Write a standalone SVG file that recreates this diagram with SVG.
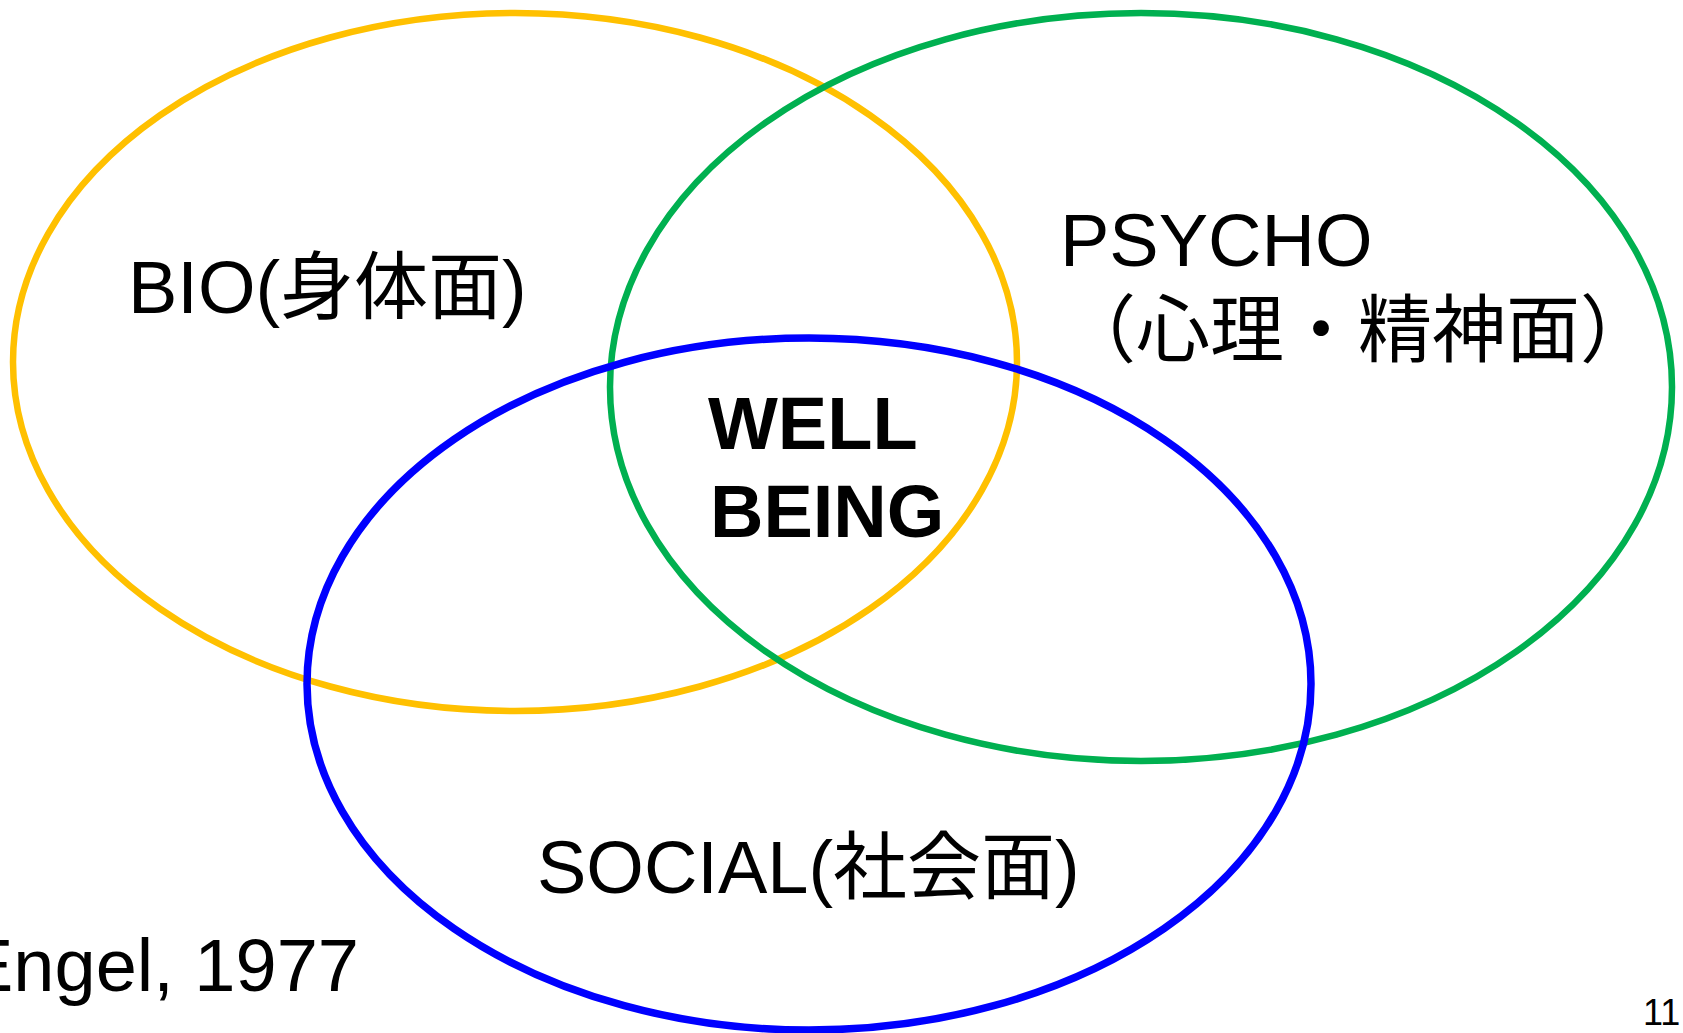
<svg xmlns="http://www.w3.org/2000/svg" width="1683" height="1033" viewBox="0 0 1683 1033">
<style>
.ring{fill:none}
.lbl{font-family:"Liberation Sans","Noto Sans CJK JP",Arial,sans-serif;font-size:74px;fill:#000}
.bold{font-weight:bold}
</style>
<rect width="1683" height="1033" fill="#fff"/>
<g id="connectors"></g>
<g id="bio">
<ellipse class="ring" cx="515" cy="362" rx="502" ry="349" stroke="#FFC000" stroke-width="6.5"/>
<text class="lbl" x="128" y="313">BIO(身体面)</text>
</g>
<g id="psycho">
<ellipse class="ring" cx="1141" cy="387" rx="531" ry="374" stroke="#00B050" stroke-width="6.5"/>
<text class="lbl" x="1060" y="266">PSYCHO</text>
<text class="lbl" x="1062" y="356">（心理・精神面）</text>
</g>
<g id="social">
<ellipse class="ring" cx="809" cy="684" rx="502" ry="346" stroke="#0000FF" stroke-width="7.5"/>
<text class="lbl" x="537" y="893">SOCIAL(社会面)</text>
</g>
<g id="wellbeing">
<text class="lbl bold" x="708" y="449">WELL</text>
<text class="lbl bold" x="710" y="537">BEING</text>
</g>
<g id="citation">
<text class="lbl" x="359" y="991" text-anchor="end" font-size="72">Engel, 1977</text>
</g>
<g id="page">
<text class="lbl" x="1643" y="1025" style="font-size:36px">11</text>
</g>
</svg>
